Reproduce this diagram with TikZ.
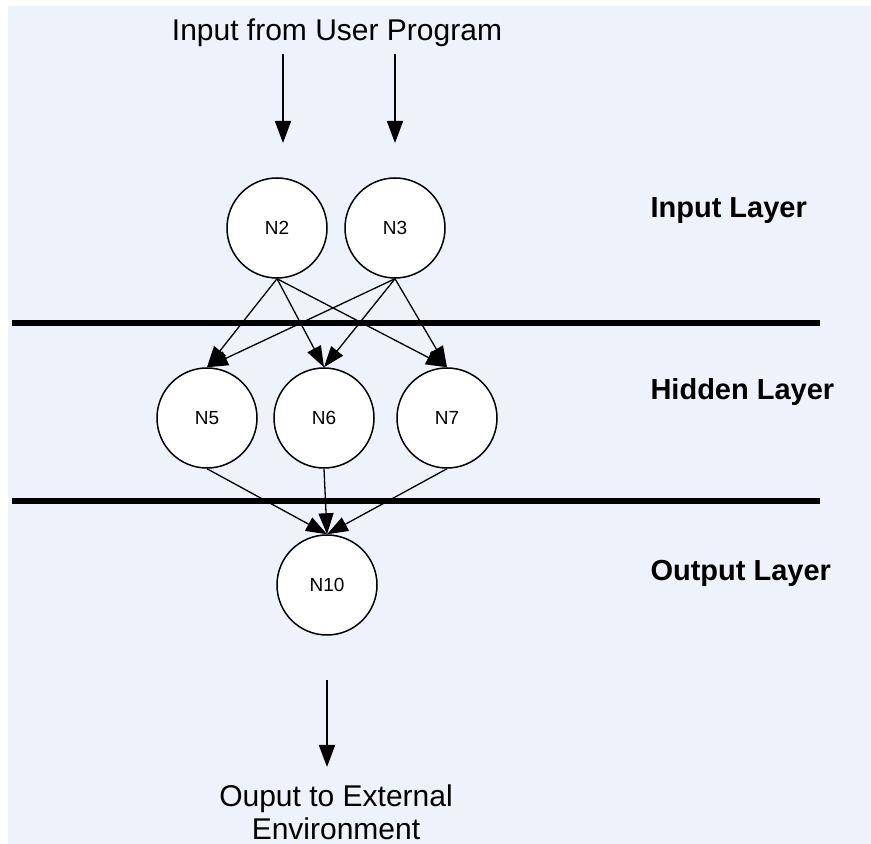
\documentclass[tikz,border=0pt]{standalone}
\usepackage{fontspec}
\setmainfont{Liberation Sans}
\usetikzlibrary{arrows.meta}
\definecolor{paneblue}{RGB}{238,242,250}

\begin{document}
\begin{tikzpicture}[x=1pt,y=1pt]
    \useasboundingbox (0,0) rectangle (871,844);
    \fill[paneblue] (8,0) rectangle (871,838);

    \tikzset{neuron/.style = {draw, circle, fill=white, line width=1.5pt, minimum size=100pt, inner sep=0pt, font=\fontsize{19}{22}\selectfont}}
    \node[neuron] (N2) at (277,616) {N2};
    \node[neuron] (N3) at (395,616) {N3};

    \node[neuron] (N5) at (207,426) {N5};
    \node[neuron] (N6) at (324,426) {N6};
    \node[neuron] (N7) at (447,426) {N7};

    \node[neuron] (N10) at (327,259) {N10};

    \tikzset{layer/.style = {anchor=west, font=\fontsize{29}{34}\selectfont\bfseries}}
    \node[layer] (lIn) at (647,633) {Input Layer};
    \node[layer] (lHid) at (647,452) {Hidden Layer};
    \node[layer] (lOut) at (647,271) {Output Layer};

    \tikzset{caption/.style = {align=center, font=\fontsize{30}{33}\selectfont}}
    \node[caption] (src) at (337,811) {Input from User Program};
    \node[caption] (dst) at (336,32) {Ouput to External\\Environment};

    \coordinate (sA) at (283,790);
    \coordinate (sAt) at (283,701);
    \coordinate (sB) at (395,790);
    \coordinate (sBt) at (395,701);
    \coordinate (oA) at (327,164);
    \coordinate (oAt) at (327,77);

    \coordinate (bA) at (12,521);
    \coordinate (bAe) at (820,521);
    \coordinate (bB) at (12,343);
    \coordinate (bBe) at (820,343);

    \tikzset{EdgeStyle/.style = {line width=1.3pt, -{Triangle[length=21pt,width=15pt]}}}
    \draw[EdgeStyle] (N2.south) -- (N5.north);
    \draw[EdgeStyle] (N2.south) -- (N6.north);
    \draw[EdgeStyle] (N2.south) -- (N7.north);
    \draw[EdgeStyle] (N3.south) -- (N5.north);
    \draw[EdgeStyle] (N3.south) -- (N6.north);
    \draw[EdgeStyle] (N3.south) -- (N7.north);

    \draw[EdgeStyle] (N5.south) -- (N10.north);
    \draw[EdgeStyle] (N6.south) -- (N10.north);
    \draw[EdgeStyle] (N7.south) -- (N10.north);

    \tikzset{EdgeStyle/.style = {line width=1.8pt, -{Triangle[length=22pt,width=16pt]}}}
    \draw[EdgeStyle] (sA) -- (sAt);
    \draw[EdgeStyle] (sB) -- (sBt);
    \draw[EdgeStyle] (oA) -- (oAt);

    \tikzset{EdgeStyle/.style = {line width=5.5pt}}
    \draw[EdgeStyle] (bA) -- (bAe);
    \draw[EdgeStyle] (bB) -- (bBe);
\end{tikzpicture}
\end{document}
